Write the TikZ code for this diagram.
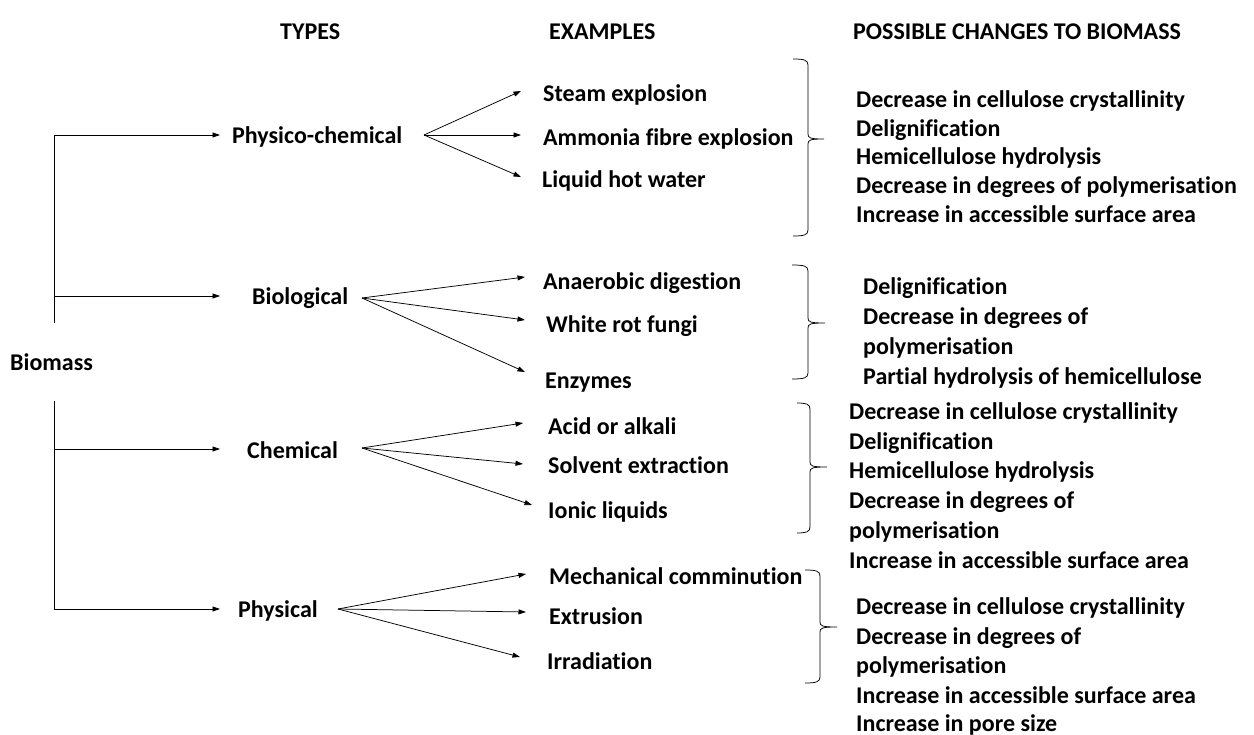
\documentclass[tikz,border=0pt]{standalone}
\usepackage{fontspec}
\setmainfont{Carlito}[Ligatures={NoCommon}]
\usetikzlibrary{arrows.meta,calc}
\newcommand\mybrace[6]{%
  \draw[brc] (#1,#4) .. controls (#2-4,#4) and (#2,#4+1) .. (#2,#4+6)
    -- (#2,#5-5) .. controls (#2,#5-1) and (#2+2,#5) .. (#3,#5)
    .. controls (#2+2,#5) and (#2,#5+1) .. (#2,#5+5)
    -- (#2,#6-6) .. controls (#2,#6-1) and (#2-4,#6) .. (#1,#6);}
\begin{document}
\begin{tikzpicture}[x=1pt,y=-1pt,
  lbl/.style={font=\bfseries\fontsize{24}{29.5}\selectfont, inner sep=0pt, anchor=west, text height=15.4pt, text depth=0pt},
  ln/.style={line width=0.75pt, draw=black},
  arr/.style={ln, -{Triangle[length=7.5pt,width=5pt]}},
  brc/.style={line width=0.75pt}]
\useasboundingbox[fill=white] (0,0) rectangle (1254,735);

% headers
\node[lbl] (hT) at (280,32) {TYPES};
\node[lbl] (hE) at (549,32) {EXAMPLES};
\node[lbl] (hP) at (853,32) {POSSIBLE CHANGES TO BIOMASS};

% root
\node[lbl] (bio) at (10,363) {Biomass};
\coordinate (vTop) at (54,135);
\coordinate (vMidA) at (54,323);
\coordinate (vMidB) at (54,401);
\coordinate (vBot) at (54,609);
\draw[ln] (vTop) -- (vMidA);
\draw[ln] (vMidB) -- (vBot);

% types
\node[lbl] (tPC) at (232,136) {Physico-chemical};
\node[lbl] (tBI) at (252,297) {Biological};
\node[lbl] (tCH) at (247,451) {Chemical};
\node[lbl] (tPH) at (238,610) {Physical};

\coordinate (aPC) at (220,135);
\coordinate (hBI) at (54,296);  \coordinate (aBI) at (220,296);
\coordinate (hCH) at (54,449);  \coordinate (aCH) at (220,449);
\coordinate (aPH) at (220,609);
\draw[arr] (vTop) -- (aPC);
\draw[arr] (hBI) -- (aBI);
\draw[arr] (hCH) -- (aCH);
\draw[arr] (vBot) -- (aPH);

% examples
\node[lbl] (e11) at (543,94) {Steam explosion};
\node[lbl] (e12) at (543,138) {Ammonia fibre explosion};
\node[lbl] (e13) at (542,180) {Liquid hot water};
\node[lbl] (e21) at (543,282) {Anaerobic digestion};
\node[lbl] (e22) at (546,325) {White rot fungi};
\node[lbl] (e23) at (545,381) {Enzymes};
\node[lbl] (e31) at (548,427) {Acid or alkali};
\node[lbl] (e32) at (548,466) {Solvent extraction};
\node[lbl] (e33) at (548,511) {Ionic liquids};
\node[lbl] (e41) at (549,577) {Mechanical comminution};
\node[lbl] (e42) at (549,617) {Extrusion};
\node[lbl] (e43) at (547,662) {Irradiation};

% fans
\coordinate (oPC) at (424,135);
\coordinate (t11) at (521,91); \coordinate (t12) at (521,135); \coordinate (t13) at (521,177);
\draw[arr] (oPC) -- (t11); \draw[arr] (oPC) -- (t12); \draw[arr] (oPC) -- (t13);
\coordinate (oBI) at (362,298);
\coordinate (t21) at (525,277); \coordinate (t22) at (525,320); \coordinate (t23) at (525,372);
\draw[arr] (oBI) -- (t21); \draw[arr] (oBI) -- (t22); \draw[arr] (oBI) -- (t23);
\coordinate (oCH) at (362,448);
\coordinate (t31) at (523,423); \coordinate (t32) at (523,464); \coordinate (t33) at (532,505);
\draw[arr] (oCH) -- (t31); \draw[arr] (oCH) -- (t32); \draw[arr] (oCH) -- (t33);
\coordinate (oPH) at (338,609);
\coordinate (t41) at (526,574); \coordinate (t42) at (526,612); \coordinate (t43) at (520,657);
\draw[arr] (oPH) -- (t41); \draw[arr] (oPH) -- (t42); \draw[arr] (oPH) -- (t43);

% braces
\mybrace{793}{808}{824}{59}{139}{236}
\mybrace{792}{808}{825}{265}{323}{379}
\mybrace{797}{810}{827}{403}{467}{533}
\mybrace{805}{820}{837}{570}{627}{683}

% changes
\node[lbl] (c11) at (856,100) {Decrease in cellulose crystallinity};
\node[lbl] (c12) at (856,129) {Delignification};
\node[lbl] (c13) at (856,157) {Hemicellulose hydrolysis};
\node[lbl] (c14) at (856,186) {Decrease in degrees of polymerisation};
\node[lbl] (c15) at (856,215) {Increase in accessible surface area};

\node[lbl] (c21) at (863,287) {Delignification};
\node[lbl] (c22) at (863,317) {Decrease in degrees of};
\node[lbl] (c23) at (863,347) {polymerisation};
\node[lbl] (c24) at (863,377) {Partial hydrolysis of hemicellulose};

\node[lbl] (c31) at (849,412) {Decrease in cellulose crystallinity};
\node[lbl] (c32) at (849,442) {Delignification};
\node[lbl] (c33) at (849,471) {Hemicellulose hydrolysis};
\node[lbl] (c34) at (849,501) {Decrease in degrees of};
\node[lbl] (c35) at (849,531) {polymerisation};
\node[lbl] (c36) at (849,561) {Increase in accessible surface area};

\node[lbl] (c41) at (856,607) {Decrease in cellulose crystallinity};
\node[lbl] (c42) at (856,637) {Decrease in degrees of};
\node[lbl] (c43) at (856,666) {polymerisation};
\node[lbl] (c44) at (856,696) {Increase in accessible surface area};
\node[lbl] (c45) at (856,724) {Increase in pore size};
\end{tikzpicture}
\end{document}
